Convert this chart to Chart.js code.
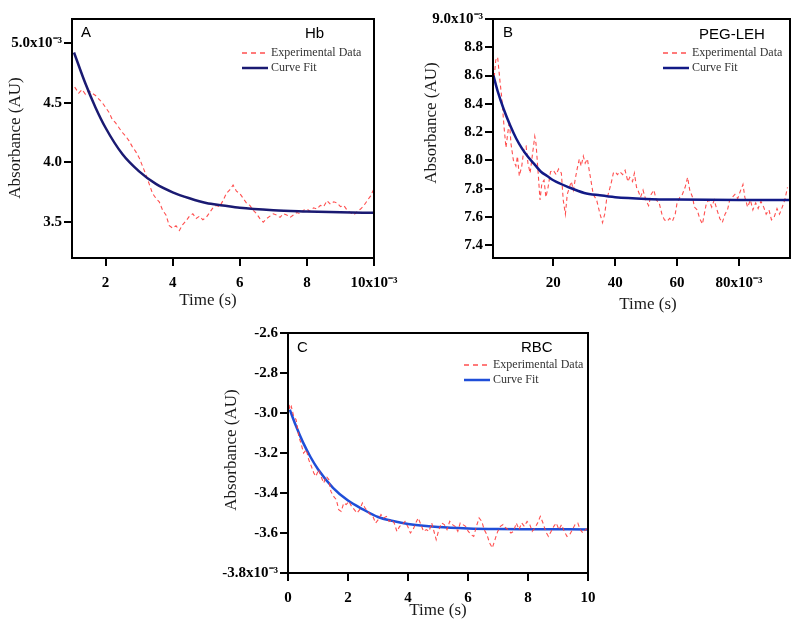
<!DOCTYPE html>
<html><head><meta charset="utf-8">
<script src="https://cdn.jsdelivr.net/npm/chart.js@4"></script>
<style>
html,body{margin:0;padding:0;background:#fff;}
#wrap{position:relative;width:800px;height:637px;overflow:hidden;}
canvas{position:absolute;}
</style></head><body>
<div id="wrap">
<canvas id="cA" width="400" height="318" style="left:0;top:0"></canvas>
<canvas id="cB" width="400" height="318" style="left:400px;top:0"></canvas>
<canvas id="cC" width="400" height="319" style="left:200px;top:318px"></canvas>
</div>
<script>
// ---------- Panel A : Hb ----------
const hbExpTime = [1.08,1.2,1.3,1.4,1.5,1.6,1.7,1.8,1.9,2.0,2.1,2.2,2.3,2.4,2.5,2.6,2.7,2.8,2.9,3.0,3.1,3.2,3.3,3.4,3.5,3.6,3.7,3.8,3.9,4.0,4.1,4.2,4.3,4.4,4.5,4.6,4.7,4.8,4.9,5.0,5.1,5.2,5.3,5.4,5.5,5.6,5.7,5.8,5.9,6.0,6.1,6.2,6.3,6.4,6.5,6.6,6.7,6.8,6.9,7.0,7.1,7.2,7.3,7.4,7.5,7.6,7.7,7.8,7.9,8.0,8.1,8.2,8.3,8.4,8.5,8.6,8.7,8.8,8.9,9.0,9.1,9.2,9.3,9.4,9.5,9.6,9.7,9.8,9.9,10.0];
const hbExpAbs  = [4.63,4.58,4.61,4.57,4.60,4.58,4.56,4.53,4.50,4.46,4.42,4.36,4.33,4.29,4.25,4.22,4.18,4.13,4.09,4.04,3.97,3.90,3.82,3.74,3.70,3.67,3.60,3.56,3.47,3.45,3.47,3.43,3.48,3.51,3.55,3.57,3.53,3.55,3.52,3.54,3.58,3.62,3.64,3.63,3.68,3.74,3.77,3.81,3.76,3.74,3.70,3.66,3.64,3.60,3.57,3.53,3.50,3.53,3.55,3.57,3.56,3.54,3.57,3.56,3.54,3.56,3.58,3.57,3.60,3.61,3.59,3.62,3.61,3.64,3.63,3.68,3.65,3.67,3.66,3.63,3.64,3.60,3.58,3.56,3.59,3.61,3.64,3.68,3.72,3.78];
const hbFitTime = [1.06,1.4,1.7,2.0,2.5,3.0,3.5,4.0,4.5,5.0,5.5,6.0,7.0,8.0,9.0,10.0];
const hbFitAbs  = [4.92,4.66,4.46,4.29,4.07,3.925,3.82,3.75,3.70,3.66,3.64,3.62,3.60,3.59,3.582,3.578];
const hbXTicks = [2,4,6,8,10];
const hbXLabels = ['2','4','6','8','10x10⁻³'];
const hbYTicks = [3.5,4.0,4.5,5.0];
const hbYLabels = ['3.5','4.0','4.5','5.0x10⁻³'];

// ---------- Panel B : PEG-LEH ----------
const pegExpTime = [0.9,1.4,2.0,2.8,3.3,4.1,4.7,5.2,5.8,6.3,7.1,7.9,8.4,9.0,9.8,10.5,11.2,11.8,12.5,13.3,14.0,14.4,15.1,15.7,16.3,17.0,17.6,18.3,19.1,20.0,20.9,21.7,22.6,23.2,23.9,24.5,25.2,25.8,26.5,27.1,27.7,28.4,29.0,29.7,30.3,31.0,31.6,32.3,32.9,34.0,35.1,35.9,36.6,37.2,38.1,38.7,39.4,40.0,40.7,41.5,42.4,43.2,44.1,44.7,45.6,46.2,46.9,47.5,48.2,49.0,49.9,50.8,51.6,52.5,53.3,54.2,55.1,55.9,56.8,57.6,58.5,59.4,60.0,60.9,61.7,62.6,63.4,64.1,65.0,65.6,66.5,67.3,68.2,68.8,69.5,70.3,71.2,72.0,72.9,73.8,74.6,75.5,76.3,77.0,77.9,78.7,79.6,80.4,81.3,81.9,82.8,83.7,84.5,85.4,86.2,87.1,88.0,88.8,89.7,90.5,91.4,92.3,93.1,94.0,94.8,95.7];
const pegExpAbs  = [8.59,8.71,8.73,8.55,8.45,8.23,8.09,8.18,8.28,8.12,8.00,7.96,8.03,7.89,7.96,8.08,8.10,7.98,7.91,8.05,8.17,8.12,7.91,7.72,7.84,7.86,7.74,7.81,7.92,7.93,7.90,7.94,7.91,7.72,7.62,7.76,7.81,7.85,7.79,7.87,7.94,8.01,7.96,8.03,7.98,8.01,7.93,7.84,7.76,7.72,7.62,7.56,7.62,7.72,7.79,7.84,7.91,7.92,7.90,7.92,7.90,7.93,7.85,7.88,7.85,7.91,7.81,7.78,7.74,7.79,7.72,7.68,7.76,7.79,7.72,7.70,7.62,7.58,7.57,7.59,7.57,7.62,7.70,7.74,7.76,7.81,7.88,7.79,7.74,7.67,7.65,7.59,7.55,7.62,7.70,7.72,7.67,7.72,7.65,7.59,7.56,7.62,7.65,7.72,7.74,7.76,7.73,7.78,7.83,7.74,7.67,7.72,7.65,7.70,7.66,7.71,7.67,7.62,7.65,7.58,7.60,7.66,7.62,7.67,7.72,7.81];
const pegFitTime = [0.65,2,4,6,8,10,12,14,16,18,20,25,30,35,40,50,60,80,96.5];
const pegFitAbs  = [8.60,8.49,8.36,8.25,8.155,8.08,8.02,7.97,7.92,7.89,7.86,7.81,7.77,7.753,7.74,7.728,7.723,7.72,7.72];
const pegXTicks = [20,40,60,80];
const pegXLabels = ['20','40','60','80x10⁻³'];
const pegYTicks = [7.4,7.6,7.8,8.0,8.2,8.4,8.6,8.8,9.0];
const pegYLabels = ['7.4','7.6','7.8','8.0','8.2','8.4','8.6','8.8','9.0x10⁻³'];

// ---------- Panel C : RBC ----------
const rbcExpTime = [0.00,0.06,0.11,0.19,0.27,0.36,0.43,0.52,0.61,0.69,0.78,0.86,0.93,1.02,1.10,1.19,1.28,1.36,1.43,1.52,1.61,1.69,1.77,1.86,1.94,2.03,2.12,2.21,2.30,2.39,2.48,2.57,2.66,2.74,2.83,2.92,3.01,3.10,3.19,3.28,3.37,3.46,3.54,3.63,3.72,3.81,3.90,3.99,4.08,4.17,4.26,4.34,4.43,4.52,4.61,4.70,4.79,4.88,4.94,5.03,5.12,5.21,5.30,5.39,5.48,5.57,5.66,5.74,5.83,5.92,6.01,6.10,6.19,6.28,6.37,6.46,6.54,6.63,6.72,6.81,6.90,6.99,7.08,7.17,7.26,7.34,7.43,7.52,7.61,7.70,7.79,7.88,7.97,8.06,8.14,8.23,8.32,8.41,8.50,8.59,8.68,8.77,8.86,8.94,9.03,9.12,9.21,9.30,9.39,9.48,9.57,9.66,9.74,9.83,9.92,10.0];
const rbcExpAbs  = [-2.925,-2.983,-2.967,-3.017,-3.033,-3.117,-3.150,-3.200,-3.183,-3.233,-3.267,-3.300,-3.317,-3.283,-3.317,-3.350,-3.317,-3.333,-3.392,-3.417,-3.433,-3.483,-3.492,-3.450,-3.458,-3.442,-3.467,-3.483,-3.500,-3.483,-3.450,-3.475,-3.492,-3.508,-3.517,-3.550,-3.533,-3.508,-3.525,-3.517,-3.542,-3.533,-3.550,-3.592,-3.567,-3.558,-3.542,-3.567,-3.600,-3.583,-3.550,-3.525,-3.558,-3.592,-3.583,-3.592,-3.550,-3.600,-3.633,-3.583,-3.550,-3.558,-3.583,-3.542,-3.558,-3.567,-3.592,-3.550,-3.558,-3.567,-3.592,-3.608,-3.617,-3.567,-3.525,-3.542,-3.583,-3.608,-3.650,-3.675,-3.633,-3.592,-3.567,-3.558,-3.575,-3.583,-3.600,-3.592,-3.550,-3.583,-3.550,-3.567,-3.542,-3.558,-3.592,-3.575,-3.550,-3.517,-3.550,-3.592,-3.617,-3.592,-3.567,-3.550,-3.583,-3.558,-3.592,-3.617,-3.608,-3.583,-3.558,-3.550,-3.583,-3.600,-3.583,-3.575];
const rbcFitTime = [0.06,0.25,0.5,0.75,1.0,1.5,2.0,2.5,3.0,3.5,4.0,5.0,6.0,7.0,8.0,10.0];
const rbcFitAbs  = [-2.983,-3.059,-3.147,-3.220,-3.281,-3.374,-3.438,-3.482,-3.520,-3.540,-3.555,-3.570,-3.577,-3.580,-3.581,-3.582];
const rbcXTicks = [0,2,4,6,8,10];
const rbcXLabels = ['0','2','4','6','8','10'];
const rbcYTicks = [-3.8,-3.6,-3.4,-3.2,-3.0,-2.8,-2.6];
const rbcYLabels = ['-3.8x10⁻³','-3.6','-3.4','-3.2','-3.0','-2.8','-2.6'];

const legendLabels = ['Experimental Data','Curve Fit'];
const xTitle = 'Time (s)';
const yTitle = 'Absorbance (AU)';

const pts = (xs, ys) => xs.map((x, i) => ({x: x, y: ys[i]}));

function axis(min, max, ticks, labels, size, isX) {
  return {
    type: 'linear', min: min, max: max,
    afterBuildTicks: s => { s.ticks = ticks.map(v => ({value: v})); },
    afterFit: s => {
      if (isX) s.height = size; else s.width = size;
      s.paddingLeft = 0; s.paddingRight = 0; s.paddingTop = 0; s.paddingBottom = 0;
    },
    grid: {drawOnChartArea: false, drawTicks: true, tickLength: 8, color: '#000', lineWidth: 2},
    border: {display: true, color: '#000', width: 2},
    ticks: {
      color: '#000', autoSkip: false, maxRotation: 0, minRotation: 0,
      padding: isX ? 8 : 2,
      font: {family: '"Liberation Serif", "Times New Roman", serif', weight: 'bold', size: 15},
      callback: (v, i) => labels[i]
    },
    title: {display: false}
  };
}

function decor(c) {
  return {
    id: 'decor',
    afterDraw(chart) {
      const ctx = chart.ctx, a = chart.chartArea;
      ctx.save();
      ctx.setLineDash([]);
      ctx.strokeStyle = '#000'; ctx.lineWidth = 2;
      ctx.strokeRect(a.left, a.top, a.right - a.left, a.bottom - a.top);
      ctx.fillStyle = '#000';
      ctx.textBaseline = 'middle'; ctx.textAlign = 'left';
      ctx.font = '15px "Liberation Sans", Arial, sans-serif';
      ctx.fillText(c.letter, c.lx, c.ly);
      ctx.fillText(c.name, c.nx, c.ny);
      // legend
      ctx.lineWidth = 1.3; ctx.strokeStyle = c.expColor; ctx.setLineDash([5, 4]);
      ctx.beginPath(); ctx.moveTo(c.gx, c.gy); ctx.lineTo(c.gx + 26, c.gy); ctx.stroke();
      ctx.setLineDash([]); ctx.lineWidth = 2.5; ctx.strokeStyle = c.fitColor;
      ctx.beginPath(); ctx.moveTo(c.gx, c.gy + 15); ctx.lineTo(c.gx + 26, c.gy + 15); ctx.stroke();
      ctx.fillStyle = '#333';
      ctx.font = '12px "Liberation Serif", "Times New Roman", serif';
      ctx.fillText(legendLabels[0], c.gx + 29, c.gy);
      ctx.fillText(legendLabels[1], c.gx + 29, c.gy + 15);
      // axis titles
      ctx.fillStyle = '#1a1a1a'; ctx.textAlign = 'center';
      ctx.font = '17px "Liberation Serif", "Times New Roman", serif';
      ctx.fillText(xTitle, c.xtx, c.xty);
      ctx.translate(c.ytx, c.yty); ctx.rotate(-Math.PI / 2);
      ctx.fillText(yTitle, 0, 0);
      ctx.restore();
    }
  };
}

function makeChart(id, d) {
  new Chart(document.getElementById(id), {
    type: 'line',
    data: {
      datasets: [
        {label: legendLabels[0], data: pts(d.ex, d.ey), borderColor: d.expColor, borderWidth: 1.1,
         borderDash: [4, 3], pointRadius: 0, tension: 0, order: d.expOrder},
        {label: legendLabels[1], data: pts(d.fx, d.fy), borderColor: d.fitColor, borderWidth: 2.5,
         pointRadius: 0, cubicInterpolationMode: 'monotone', order: d.fitOrder}
      ]
    },
    options: {
      responsive: false, animation: false, devicePixelRatio: 1,
      layout: {padding: d.pad},
      plugins: {legend: {display: false}, tooltip: {enabled: false}},
      scales: {
        x: axis(d.xmin, d.xmax, d.xt, d.xl, d.xh, true),
        y: axis(d.ymin, d.ymax, d.yt, d.yl, d.yw, false)
      }
    },
    plugins: [decor(d)]
  });
}

makeChart('cA', {
  ex: hbExpTime, ey: hbExpAbs, fx: hbFitTime, fy: hbFitAbs,
  xmin: 1.0, xmax: 10, xt: hbXTicks, xl: hbXLabels,
  ymin: 3.2, ymax: 5.2, yt: hbYTicks, yl: hbYLabels,
  pad: {left: 0, top: 19, right: 26, bottom: 0}, xh: 60, yw: 72,
  expColor: 'rgba(255,60,60,0.9)', fitColor: '#1a1a72', expOrder: 2, fitOrder: 1,
  letter: 'A', lx: 81, ly: 33, name: 'Hb', nx: 305, ny: 34,
  gx: 242, gy: 53, xtx: 208, xty: 301, ytx: 16, yty: 138
});
makeChart('cB', {
  ex: pegExpTime, ey: pegExpAbs, fx: pegFitTime, fy: pegFitAbs,
  xmin: 0.5, xmax: 96.5, xt: pegXTicks, xl: pegXLabels,
  ymin: 7.31, ymax: 9.0, yt: pegYTicks, yl: pegYLabels,
  pad: {left: 0, top: 19, right: 10, bottom: 0}, xh: 60, yw: 93,
  expColor: 'rgba(255,60,60,0.9)', fitColor: '#121a86', expOrder: 2, fitOrder: 1,
  letter: 'B', lx: 103, ly: 33, name: 'PEG-LEH', nx: 299, ny: 35,
  gx: 263, gy: 53, xtx: 248, xty: 305, ytx: 32, yty: 123
});
makeChart('cC', {
  ex: rbcExpTime, ey: rbcExpAbs, fx: rbcFitTime, fy: rbcFitAbs,
  xmin: 0, xmax: 10, xt: rbcXTicks, xl: rbcXLabels,
  ymin: -3.8, ymax: -2.6, yt: rbcYTicks, yl: rbcYLabels,
  pad: {left: 0, top: 15, right: 12, bottom: 0}, xh: 64, yw: 88,
  expColor: 'rgba(255,60,60,0.9)', fitColor: '#1f4ed8', expOrder: 1, fitOrder: 2,
  letter: 'C', lx: 97, ly: 30, name: 'RBC', nx: 321, ny: 30,
  gx: 264, gy: 47, xtx: 238, xty: 293, ytx: 32, yty: 132
});
</script>
</body></html>
